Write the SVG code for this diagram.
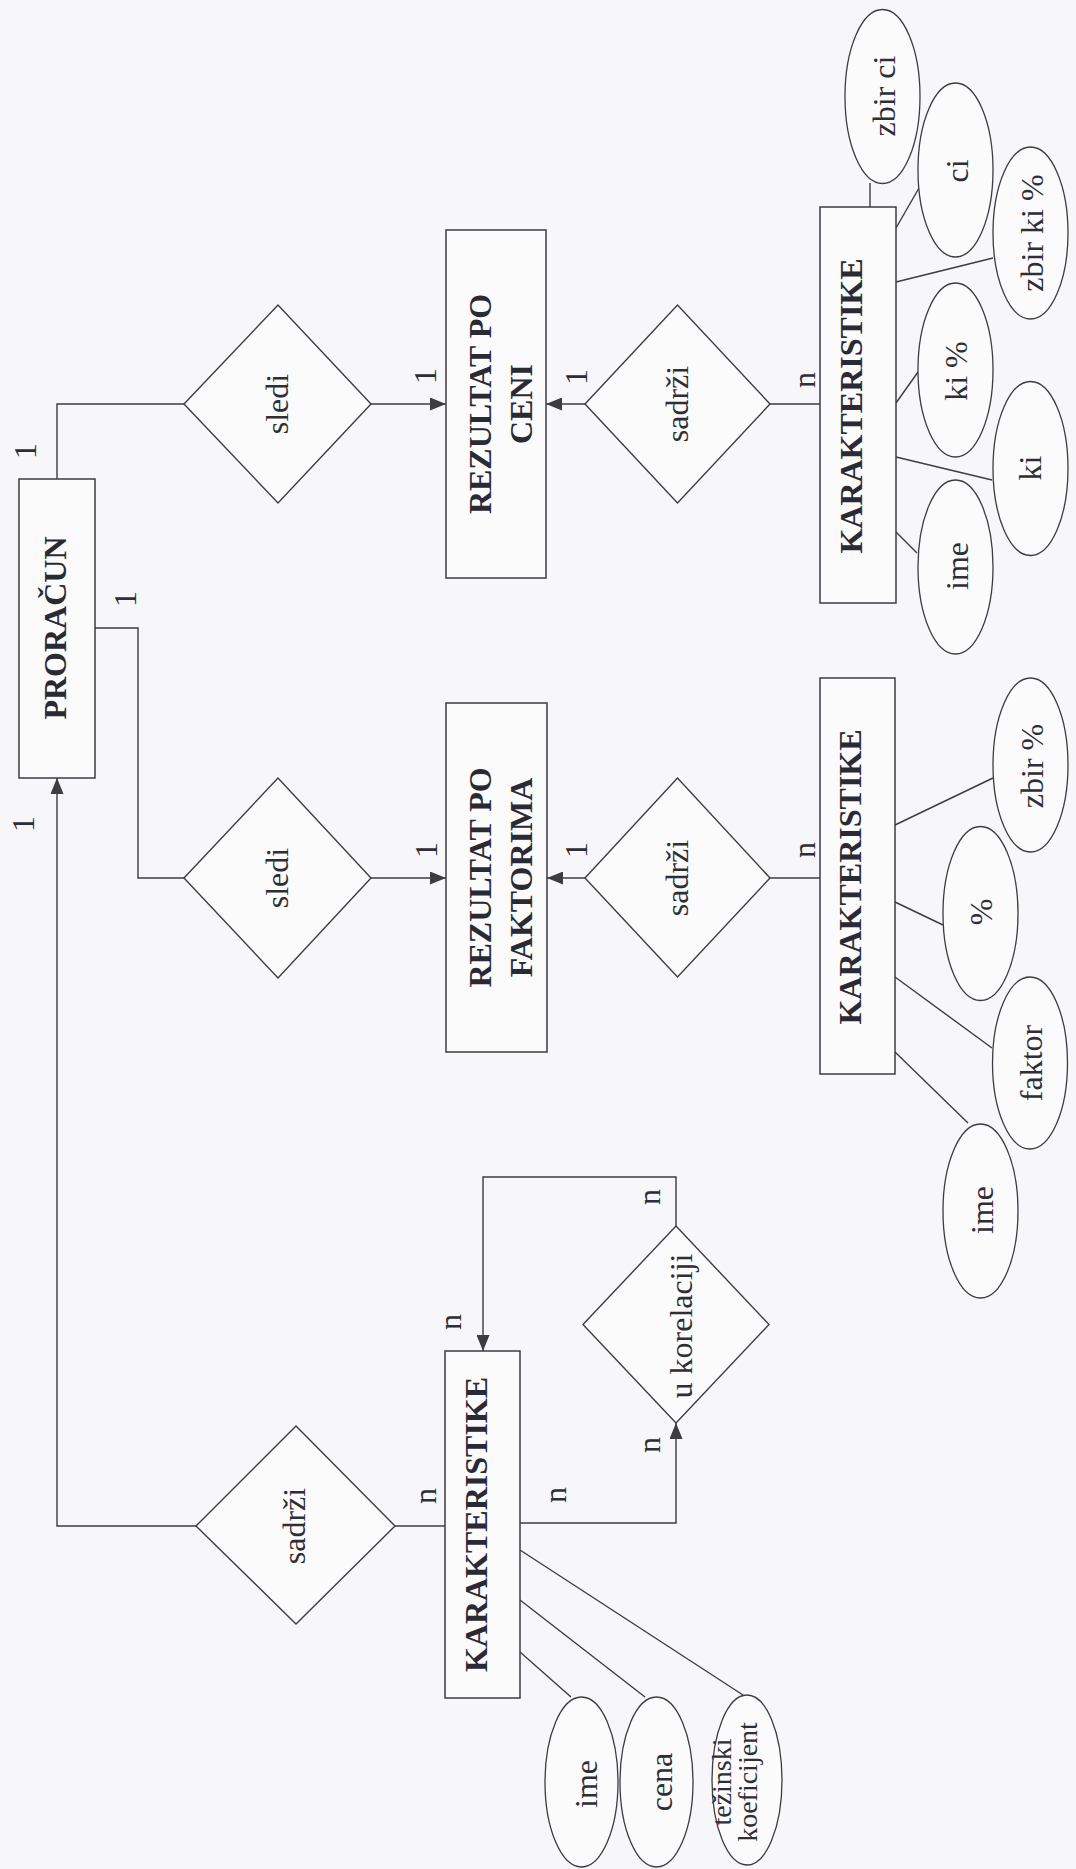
<svg xmlns="http://www.w3.org/2000/svg" width="1076" height="1869" viewBox="0 0 1076 1869">
<style>
.bg{fill:#f7f7f9}
.ent{fill:#fbfbfc;stroke:#3c3c42;stroke-width:1.5}
.rel{fill:#fbfbfc;stroke:#3c3c42;stroke-width:1.4}
.att{fill:#fbfbfc;stroke:#3c3c42;stroke-width:1.3}
.ln{fill:none;stroke:#3c3c42;stroke-width:1.4}
.et{font-family:"Liberation Serif",serif;font-weight:bold;font-size:32px;fill:#2a2a35;text-anchor:middle}
.rt{font-family:"Liberation Serif",serif;font-size:32px;fill:#2e2e36;text-anchor:middle}
.at{font-family:"Liberation Serif",serif;font-size:32px;fill:#2e2e36;text-anchor:middle}
.at2{font-family:"Liberation Serif",serif;font-size:28px;fill:#2e2e36;text-anchor:middle}
.lb{font-family:"Liberation Serif",serif;font-size:32px;fill:#2e2e36;text-anchor:middle}
</style>
<defs>
<marker id="ah" markerUnits="userSpaceOnUse" markerWidth="17" markerHeight="13" refX="16" refY="6.5" orient="auto">
<path d="M0,0 L16,6.5 L0,13 Z" fill="#3c3c42"/>
</marker>
</defs>
<rect class="bg" x="0" y="0" width="1076" height="1869"/>

<g id="connectors">
<polyline class="ln" points="57,479 57,404 184,404"/>
<line class="ln" x1="371" y1="404" x2="446" y2="404" marker-end="url(#ah)"/>
<line class="ln" x1="585" y1="404" x2="546" y2="404" marker-end="url(#ah)"/>
<line class="ln" x1="770" y1="404" x2="820" y2="404"/>
<polyline class="ln" points="95,628 138,628 138,878 184,878"/>
<line class="ln" x1="371" y1="878" x2="446" y2="878" marker-end="url(#ah)"/>
<line class="ln" x1="585" y1="878" x2="547" y2="878" marker-end="url(#ah)"/>
<line class="ln" x1="770" y1="878" x2="820" y2="878"/>
<polyline class="ln" points="196,1526 57,1526 57,778" marker-end="url(#ah)"/>
<line class="ln" x1="395" y1="1526" x2="445" y2="1526"/>
<polyline class="ln" points="520,1523 676,1523 676,1423" marker-end="url(#ah)"/>
<polyline class="ln" points="676,1226 676,1177 483,1177 483,1351" marker-end="url(#ah)"/>
<line class="ln" x1="870" y1="183" x2="870" y2="207"/>
<line class="ln" x1="896" y1="228" x2="919" y2="188"/>
<line class="ln" x1="896" y1="282" x2="993" y2="258"/>
<line class="ln" x1="896" y1="403" x2="918" y2="372"/>
<line class="ln" x1="896" y1="457" x2="992" y2="480"/>
<line class="ln" x1="896" y1="532" x2="917" y2="553"/>
<line class="ln" x1="895" y1="825" x2="993" y2="778"/>
<line class="ln" x1="895" y1="902" x2="943" y2="925"/>
<line class="ln" x1="895" y1="977" x2="992" y2="1048"/>
<line class="ln" x1="895" y1="1052" x2="968" y2="1123"/>
<line class="ln" x1="520" y1="1550" x2="743" y2="1695"/>
<line class="ln" x1="520" y1="1600" x2="645" y2="1697"/>
<line class="ln" x1="520" y1="1652" x2="571" y2="1697"/>
<g id="cardinalities">
<text class="lb" transform="translate(36,451) rotate(-90)">1</text>
<text class="lb" transform="translate(136,599) rotate(-90)">1</text>
<text class="lb" transform="translate(436,376) rotate(-90)">1</text>
<text class="lb" transform="translate(587,377) rotate(-90)">1</text>
<text class="lb" transform="translate(437,850) rotate(-90)">1</text>
<text class="lb" transform="translate(587,850) rotate(-90)">1</text>
<text class="lb" transform="translate(34,824) rotate(-90)">1</text>
<text class="lb" transform="translate(815,380) rotate(-90)">n</text>
<text class="lb" transform="translate(815,850) rotate(-90)">n</text>
<text class="lb" transform="translate(436,1496) rotate(-90)">n</text>
<text class="lb" transform="translate(566,1495) rotate(-90)">n</text>
<text class="lb" transform="translate(461,1322) rotate(-90)">n</text>
<text class="lb" transform="translate(660,1197) rotate(-90)">n</text>
<text class="lb" transform="translate(660,1445) rotate(-90)">n</text>
</g>
</g>

<g id="proracun">
<rect class="ent" x="19" y="479" width="76" height="299"/>
<text class="et" transform="translate(66,628) rotate(-90)">PRORAČUN</text>
</g>
<g id="rezultat-po-ceni">
<rect class="ent" x="446" y="230" width="100" height="348"/>
<text class="et" transform="translate(491,404) rotate(-90)"><tspan x="0" y="0">REZULTAT PO</tspan><tspan x="0" y="41">CENI</tspan></text>
</g>
<g id="rezultat-po-faktorima">
<rect class="ent" x="446" y="703" width="101" height="349"/>
<text class="et" transform="translate(491,877.5) rotate(-90)"><tspan x="0" y="0">REZULTAT PO</tspan><tspan x="0" y="41">FAKTORIMA</tspan></text>
</g>
<g id="karakteristike-1">
<rect class="ent" x="820" y="207" width="76" height="396"/>
<text class="et" transform="translate(862,406) rotate(-90)">KARAKTERISTIKE</text>
</g>
<g id="karakteristike-2">
<rect class="ent" x="820" y="678" width="75" height="396"/>
<text class="et" transform="translate(861,877) rotate(-90)">KARAKTERISTIKE</text>
</g>
<g id="karakteristike-3">
<rect class="ent" x="445" y="1351" width="75" height="347"/>
<text class="et" transform="translate(487,1524.5) rotate(-90)">KARAKTERISTIKE</text>
</g>

<g id="sledi-1">
<polygon class="rel" points="184,404 278,305 371,404 278,503"/>
<text class="rt" transform="translate(288,404) rotate(-90)">sledi</text>
</g>
<g id="sadrzi-1">
<polygon class="rel" points="585,404 677.5,305 770,404 677.5,503"/>
<text class="rt" transform="translate(688,404) rotate(-90)">sadrži</text>
</g>
<g id="sledi-2">
<polygon class="rel" points="184,878 278,778 371,878 278,978"/>
<text class="rt" transform="translate(288,878) rotate(-90)">sledi</text>
</g>
<g id="sadrzi-2">
<polygon class="rel" points="585,878 677.5,778 770,878 677.5,977"/>
<text class="rt" transform="translate(688,878) rotate(-90)">sadrži</text>
</g>
<g id="sadrzi-3">
<polygon class="rel" points="196,1526 296,1426 395,1526 296,1624"/>
<text class="rt" transform="translate(305,1526) rotate(-90)">sadrži</text>
</g>
<g id="u-korelaciji">
<polygon class="rel" points="583,1324.5 676,1226 769,1324.5 676,1423"/>
<text class="rt" transform="translate(692,1326) rotate(-90)">u korelaciji</text>
</g>

<g id="attr-zbir-ci">
<ellipse class="att" cx="882.5" cy="96.5" rx="37.5" ry="87"/>
<text class="at" transform="translate(895,96) rotate(-90)">zbir ci</text>
</g>
<g id="attr-ci">
<ellipse class="att" cx="955.5" cy="170" rx="37.5" ry="87"/>
<text class="at" transform="translate(968,171) rotate(-90)">ci</text>
</g>
<g id="attr-zbir-ki-pct">
<ellipse class="att" cx="1030.5" cy="233" rx="37.5" ry="86"/>
<text class="at" transform="translate(1043,233) rotate(-90)">zbir ki %</text>
</g>
<g id="attr-ki-pct">
<ellipse class="att" cx="955.5" cy="370" rx="37.5" ry="87"/>
<text class="at" transform="translate(967,371) rotate(-90)">ki %</text>
</g>
<g id="attr-ki">
<ellipse class="att" cx="1030.5" cy="468.5" rx="37.5" ry="87"/>
<text class="at" transform="translate(1041,468) rotate(-90)">ki</text>
</g>
<g id="attr-ime-1">
<ellipse class="att" cx="955.5" cy="567" rx="37.5" ry="87"/>
<text class="at" transform="translate(968,566) rotate(-90)">ime</text>
</g>
<g id="attr-zbir-pct">
<ellipse class="att" cx="1030.5" cy="765" rx="37.5" ry="87"/>
<text class="at" transform="translate(1043,766) rotate(-90)">zbir %</text>
</g>
<g id="attr-pct">
<ellipse class="att" cx="980.5" cy="913.5" rx="37.5" ry="87"/>
<text class="at" transform="translate(992,912) rotate(-90)">%</text>
</g>
<g id="attr-faktor">
<ellipse class="att" cx="1030" cy="1063" rx="37.5" ry="86"/>
<text class="at" transform="translate(1042,1063) rotate(-90)">faktor</text>
</g>
<g id="attr-ime-2">
<ellipse class="att" cx="980.5" cy="1211" rx="37.5" ry="87"/>
<text class="at" transform="translate(993,1210) rotate(-90)">ime</text>
</g>
<g id="attr-ime-3">
<ellipse class="att" cx="581.5" cy="1782" rx="36.5" ry="85"/>
<text class="at" transform="translate(597,1784) rotate(-90)">ime</text>
</g>
<g id="attr-cena">
<ellipse class="att" cx="656.5" cy="1782" rx="36.5" ry="85"/>
<text class="at" transform="translate(672,1782) rotate(-90)">cena</text>
</g>
<g id="attr-tezinski-koeficijent">
<ellipse class="att" cx="747" cy="1780" rx="35" ry="85"/>
<text class="at2" transform="translate(731,1782) rotate(-90)"><tspan x="0" y="0">težinski</tspan><tspan x="0" y="26">koeficijent</tspan></text>
</g>
</svg>
